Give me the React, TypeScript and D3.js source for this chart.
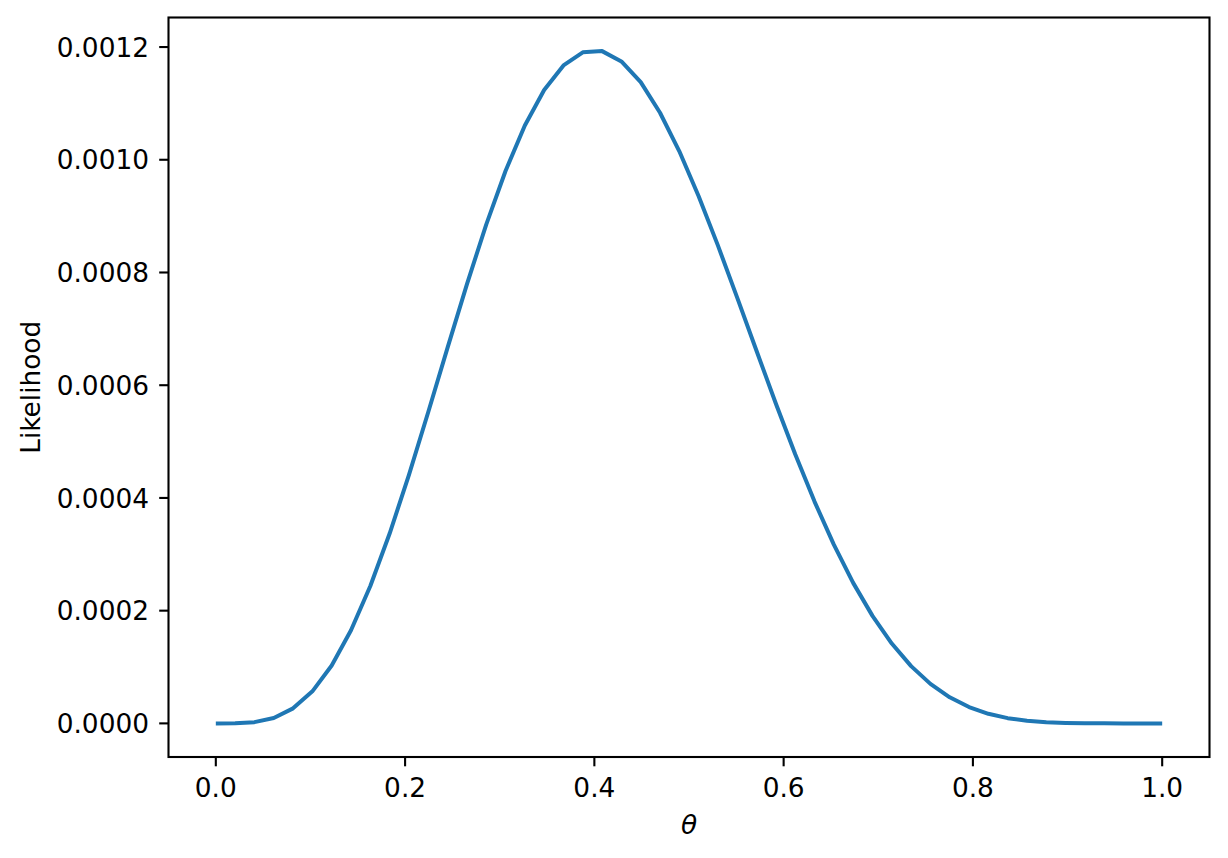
import React from "react";
import * as d3 from "d3";

const thetaCount = 50;
const likelihood: number[] = [
  0, 1.533e-7, 2.1616e-6, 9.6176e-6, 2.6643e-5, 5.6834e-5, 1.02675e-4, 1.6515e-4, 2.4384e-4, 3.368e-4,
  4.4097e-4, 5.5245e-4, 6.667e-4, 7.7898e-4, 8.8503e-4, 9.8014e-4, 1.06081e-3, 1.12375e-3, 1.16731e-3, 1.19055e-3,
  1.19277e-3, 1.17452e-3, 1.13772e-3, 1.08338e-3, 1.01504e-3, 9.353e-4, 8.4764e-4, 7.5491e-4, 6.6067e-4, 5.6716e-4,
  4.7745e-4, 3.9352e-4, 3.1706e-4, 2.4931e-4, 1.9075e-4, 1.4161e-4, 1.0162e-4, 7.013e-5, 4.629e-5, 2.899e-5,
  1.704e-5, 9.28e-6, 4.588e-6, 2.0e-6, 7.64e-7, 2.1e-7, 4.1e-8, 3.9e-9, 6.6e-11, 0,
];
const thetas: number[] = likelihood.map((_, i) => i / (thetaCount - 1));
const xTicks = [0, 0.2, 0.4, 0.6, 0.8, 1.0];
const yTicks = [0, 0.0002, 0.0004, 0.0006, 0.0008, 0.001, 0.0012];

const W = 1228, H = 858;
const L = 168.5, R = 1209.5, T = 17.5, B = 757;
const FONT = "DejaVu Sans, sans-serif";
const FS = 26.4;

export default function App() {
  const ymax = d3.max(likelihood)!;
  const ymin = 0;
  const pad = (ymax - ymin) * 0.05;
  const x = d3.scaleLinear().domain([-0.05, 1.05]).range([L, R]);
  const y = d3.scaleLinear().domain([ymin - pad, ymax + pad]).range([B, T]);
  const line = d3.line<number>().x((_, i) => x(thetas[i])).y((d) => y(d));
  return (
    <svg width={W} height={H} style={{ position: "absolute", left: 0, top: 0, background: "#fff" }}>
      <rect x={0} y={0} width={W} height={H} fill="#fff" />
      <path d={line(likelihood) || ""} fill="none" stroke="#1f77b4" strokeWidth={4} strokeLinejoin="round" strokeLinecap="butt" />
      <rect x={L} y={T} width={R - L} height={B - T} fill="none" stroke="#000" strokeWidth={2.1} />
      {xTicks.map((t) => (
        <g key={"x" + t}>
          <line x1={x(t)} x2={x(t)} y1={B} y2={B + 9.3} stroke="#000" strokeWidth={2.1} />
          <text x={x(t)} y={796.5} textAnchor="middle" fontFamily={FONT} fontSize={FS} fill="#000">
            {t.toFixed(1)}
          </text>
        </g>
      ))}
      {yTicks.map((t) => (
        <g key={"y" + t}>
          <line x1={L} x2={L - 9.3} y1={y(t)} y2={y(t)} stroke="#000" strokeWidth={2.1} />
          <text x={L - 19.5} y={y(t)} dy="0.365em" textAnchor="end" fontFamily={FONT} fontSize={FS} fill="#000">
            {t.toFixed(4)}
          </text>
        </g>
      ))}
      <text x={(L + R) / 2} y={834} textAnchor="middle" fontFamily={FONT} fontSize={FS} fontStyle="italic" fill="#000">
        θ
      </text>
      <text transform={`translate(40, ${(T + B) / 2}) rotate(-90)`} textAnchor="middle" fontFamily={FONT} fontSize={FS} fill="#000">
        Likelihood
      </text>
    </svg>
  );
}
